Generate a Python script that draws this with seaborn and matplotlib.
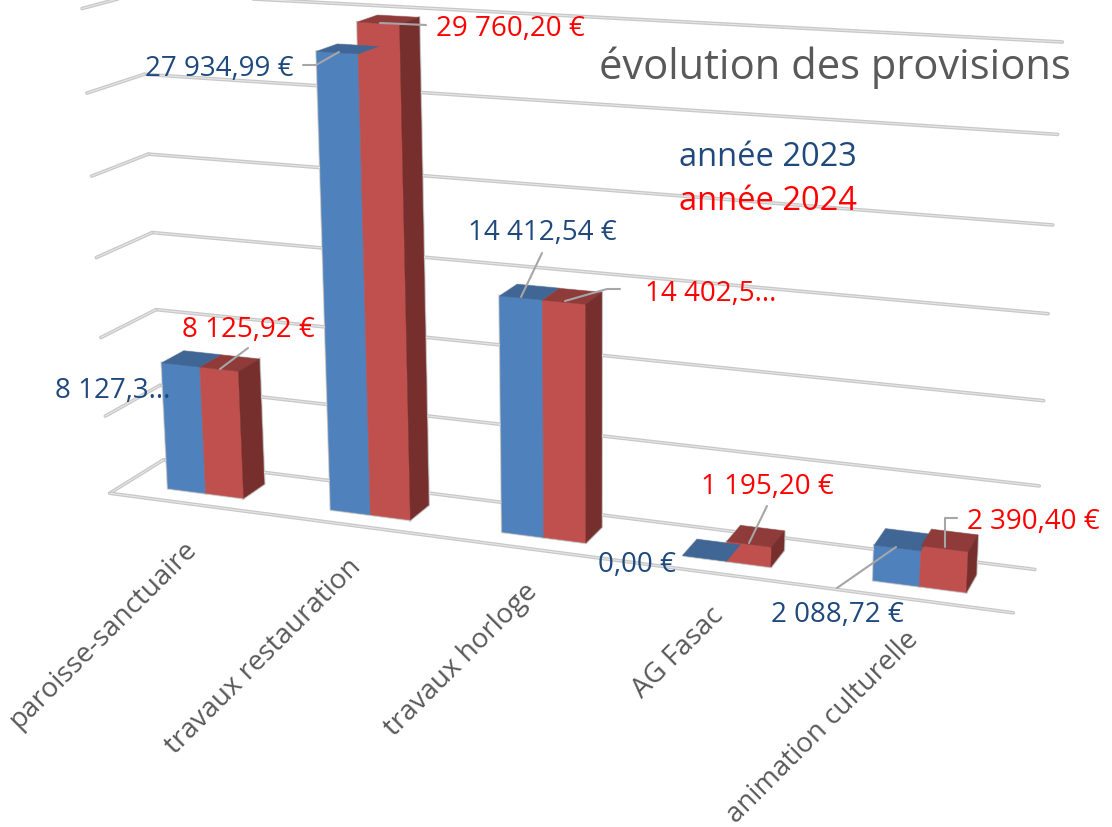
import numpy as np
import pandas as pd
import matplotlib
matplotlib.use("Agg")
import matplotlib.pyplot as plt
from matplotlib.patches import Polygon
from matplotlib.transforms import Transform
import seaborn as sns

categories = ["paroisse-sanctuaire", "travaux restauration", "travaux horloge", "AG Fasac", "animation culturelle"]
values_2023 = [8127.30, 27934.99, 14412.54, 0.00, 2088.72]
values_2024 = [8125.92, 29760.20, 14402.50, 1195.20, 2390.40]
labels_2023 = ["8 127,3...", "27 934,99 €", "14 412,54 €", "0,00 €", "2 088,72 €"]
labels_2024 = ["8 125,92 €", "29 760,20 €", "14 402,5...", "1 195,20 €", "2 390,40 €"]
years = ["2023", "2024"]
levels = [0, 5000, 10000, 15000, 20000, 25000, 30000]

W, H = 1112, 828
vmax = 30000
depth_front, depth_back = 0.30, 0.71
BLUE, RED = "#4F81BD", "#C0504D"
TOP = {"2023": "#3F6694", "2024": "#8E3B39"}
SIDE = "#772F2D"
TXT_BLUE, TXT_RED, TXT_GREY = "#1F497D", "#FF0000", "#595959"

# chart box corners as seen in the picture: (x 0-1, depth 0-1, value 0-1) -> pixel
left_back = [(165, 461), (160, 385), (156, 310), (153, 233), (148, 155), (143, 76), (139, -5)]
right_back = [(1035, 571), (1039, 487), (1044, 402), (1048, 315), (1053, 226), (1057, 135), (1063, 43)]
left_front = [(108, 495), (105, 418), (101, 339), (97, 258), (92, 177), (87, 94), (83, 9)]
calib = [(1, 0, 0) + (1013, 613)]
for i, lv in enumerate(levels):
    v = lv / vmax
    calib.append((0, 1, v) + left_back[i])
    calib.append((1, 1, v) + right_back[i])
    calib.append((0, 0, v) + left_front[i])

A = []
for X, D, V, px, py in calib:
    A.append([X, D, V, 1, 0, 0, 0, 0, -px*X, -px*D, -px*V, -px])
    A.append([0, 0, 0, 0, X, D, V, 1, -py*X, -py*D, -py*V, -py])
P = np.linalg.svd(np.array(A, dtype=float))[2][-1].reshape(3, 4)


def project(x, d, v):
    x = np.asarray(x, dtype=float)
    v = np.asarray(v, dtype=float)
    q = np.stack([(x + 0.5) / 5, np.full_like(x, d), v / vmax, np.ones_like(x)])
    r = P @ q
    return np.stack([r[0] / r[2], r[1] / r[2]], axis=-1)


class FrontFace(Transform):
    input_dims = 2
    output_dims = 2
    is_separable = False
    has_inverse = False

    def __init__(self, d):
        super().__init__()
        self.d = d

    def transform_non_affine(self, pts):
        pts = np.asarray(pts)
        return project(pts[:, 0], self.d, pts[:, 1])


sns.set_theme(style="white")
plt.rcParams["font.family"] = ["Open Sans", "DejaVu Sans"]

fig = plt.figure(figsize=(W / 100, H / 100), dpi=100)
pix = fig.add_axes([0, 0, 1, 1], zorder=0)
pix.set_xlim(0, W)
pix.set_ylim(H, 0)
pix.set_axis_off()

# walls and floor
def wall_line(a, b):
    pts = np.array([a, b])
    pix.plot(pts[:, 0], pts[:, 1], color="#c8c8c8", lw=2.6, solid_capstyle="round", scalex=False, scaley=False)
    pix.plot(pts[:, 0], pts[:, 1], color="#e6e6e6", lw=0.8, scalex=False, scaley=False)

for lv in levels:
    back_l = project([-0.5], 1, [lv])[0]
    back_r = project([4.5], 1, [lv])[0]
    front_l = project([-0.5], 0, [lv])[0]
    wall_line(back_l, back_r)
    wall_line(back_l, front_l)
wall_line(project([-0.5], 0, [0])[0], project([4.5], 0, [0])[0])

df = pd.DataFrame({
    "categorie": categories * 2,
    "annee": [years[0]] * 5 + [years[1]] * 5,
    "montant": values_2023 + values_2024,
})
ax = fig.add_axes([0, 0, 1, 1], zorder=1)
sns.barplot(data=df, x="categorie", y="montant", hue="annee", hue_order=years,
            palette=[BLUE, RED], saturation=1, width=0.47, legend=False, ax=ax)
ax.set_xlim(-0.5, 4.5)
ax.set_ylim(0, vmax)
ax.set_axis_off()

front = FrontFace(depth_front) + pix.transData
bars = list(ax.patches)
for n, b in enumerate(bars):
    b.set_transform(front)
    b.set_edgecolor(b.get_facecolor())
    b.set_linewidth(0.4)
    b.set_clip_on(False)
    x0, x1 = b.get_x(), b.get_x() + b.get_width()
    v = b.get_height()
    year = years[n // 5]
    face = project([x0, x1, x1, x0], depth_front, [0, 0, v, v])
    top = np.vstack([project([x0, x1], depth_front, [v, v]), project([x1, x0], depth_back, [v, v])])
    pix.add_patch(Polygon(face, closed=True, fill=False, edgecolor="#c4c4c4", lw=1.8))
    pix.add_patch(Polygon(top, closed=True, fill=False, edgecolor="#d0d0d0", lw=1.2))
    ax.add_patch(Polygon(top, closed=True, facecolor=TOP[year], edgecolor=TOP[year], lw=0.3, transform=pix.transData, clip_on=False))
    if year == years[1]:
        side = np.vstack([project([x1, x1], depth_front, [0, v]), project([x1, x1], depth_back, [v, 0])])
        pix.add_patch(Polygon(side, closed=True, fill=False, edgecolor="#c4c4c4", lw=1.8))
        ax.add_patch(Polygon(side, closed=True, facecolor=SIDE, edgecolor=SIDE, lw=0.3, transform=pix.transData, clip_on=False))

# data labels, placed by hand like in the picture
label_pos_2023 = [(113, 391), (219, 69), (542, 233), (637, 565), (837, 615)]
label_pos_2024 = [(248, 330), (510, 29), (711, 294), (767, 487), (1033, 522)]
for i in range(5):
    ax.text(*label_pos_2023[i], labels_2023[i], color=TXT_BLUE, fontsize=20, ha="center", va="center", transform=pix.transData)
    ax.text(*label_pos_2024[i], labels_2024[i], color=TXT_RED, fontsize=20, ha="center", va="center", transform=pix.transData)

leaders = [
    [(303, 66), (316, 66), (339, 53)],
    [(380, 24), (426, 26)],
    [(542, 254), (521, 298)],
    [(565, 302), (607, 290), (620, 290)],
    [(248, 349), (220, 370)],
    [(767, 507), (749, 544)],
    [(957, 519), (945, 519), (945, 548)],
    [(837, 589), (896, 548)],
]
for ld in leaders:
    ld = np.array(ld)
    ax.plot(ld[:, 0], ld[:, 1], color="#a6a6a6", lw=1.5, transform=pix.transData, scalex=False, scaley=False)

ax.text(835, 68, "évolution des provisions", color=TXT_GREY, fontsize=30, ha="center", va="center", transform=pix.transData)
ax.text(768, 157, "année 2023", color=TXT_BLUE, fontsize=23.5, ha="center", va="center", transform=pix.transData)
ax.text(768, 202, "année 2024", color=TXT_RED, fontsize=23.5, ha="center", va="center", transform=pix.transData)

cat_pos = [(103, 635), (264, 657), (461, 660), (678, 653), (823, 727)]
for c, pos in zip(categories, cat_pos):
    ax.text(*pos, c, color=TXT_GREY, fontsize=20, rotation=45, ha="center", va="center", rotation_mode="anchor", transform=pix.transData)

fig.savefig("out.png", dpi=100)
